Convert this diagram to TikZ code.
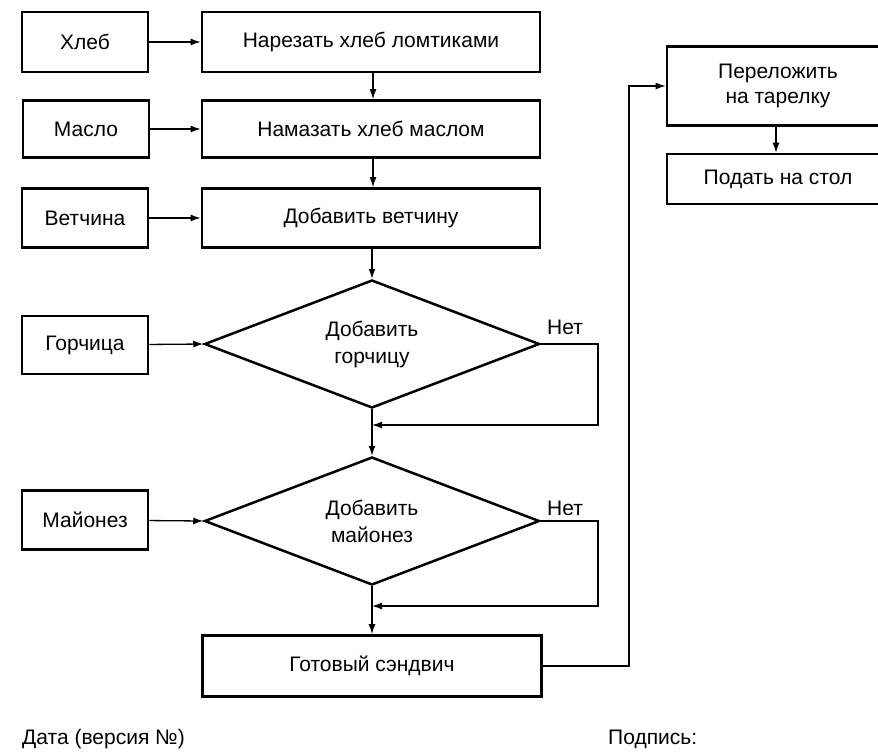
\documentclass[tikz,border=0pt]{standalone}
\usepackage{fontspec}
\setmainfont{Liberation Sans}
\usetikzlibrary{arrows.meta,shapes.geometric}
\begin{document}
\begin{tikzpicture}[x=1pt,y=-1pt,
  box/.style={draw=black,line width=2.6pt,rectangle,inner sep=0pt,font=\fontsize{21}{25}\selectfont,align=center},
  decision/.style={draw=black,line width=2.5pt,diamond,aspect=2.6,inner sep=0pt,minimum width=335pt,minimum height=128pt,font=\fontsize{21}{27}\selectfont,align=center},
  conn/.style={line width=1.3pt,-{Latex[length=10pt,width=7pt]}},
  lbl/.style={font=\fontsize{21}{25}\selectfont,inner sep=0pt}]
\useasboundingbox (0,0) rectangle (878,753);
\clip (0,0) rectangle (878,753);
\fill[white] (0,0) rectangle (878,753);

% left input boxes
\node[box,minimum width=126pt,minimum height=60pt] (xleb) at (85,42) {Хлеб};
\node[box,minimum width=126pt,minimum height=57pt] (maslo) at (86,129) {Масло};
\node[box,minimum width=126pt,minimum height=59pt] (vetch) at (85,218) {Ветчина};
\node[box,minimum width=126pt,minimum height=58pt] (gorch) at (85,345) {Горчица};
\node[box,minimum width=126pt,minimum height=59pt] (mayo) at (85,520) {Майонез};

% main column
\node[box,minimum width=338pt,minimum height=60pt] (narez) at (371,42) {Нарезать хлеб ломтиками};
\node[box,minimum width=338pt,minimum height=57pt] (namaz) at (371,129) {Намазать хлеб маслом};
\node[box,minimum width=338pt,minimum height=59pt] (dobvet) at (371,218) {Добавить ветчину};
\node[decision] (d1) at (372,344) {Добавить\\горчицу};
\node[decision] (d2) at (372,521) {Добавить\\майонез};
\node[box,minimum width=339pt,minimum height=61pt] (gotov) at (372,666) {Готовый сэндвич};

% right column
\node[box,minimum width=222pt,minimum height=79pt] (perel) at (778,86) {Переложить\\на тарелку};
\node[box,minimum width=222pt,minimum height=50pt] (podat) at (778,179) {Подать на стол};

% inputs
\draw[conn] (xleb) -- (narez);
\draw[conn] (maslo) -- (namaz);
\draw[conn] (vetch) -- (dobvet);
\draw[conn] (gorch) -- (d1.west);
\draw[conn] (mayo) -- (d2.west);

% main flow
\draw[conn] (narez.south -| 373,0) -- (namaz.north -| 373,0);
\draw[conn] (namaz.south -| 373,0) -- (dobvet.north -| 373,0);
\draw[conn] (dobvet.south -| 372,0) -- (d1.north);
\draw[conn] (d1.south) -- (d2.north);
\draw[conn] (d2.south) -- (gotov.north -| d2.south);

% no-branches
\coordinate (j1) at (372,425);
\coordinate (j2) at (372,606);
\draw[conn] (d1.east) -- (598,344) |- (j1);
\draw[conn] (d2.east) -- (598,521) |- (j2);
\node[lbl,anchor=west] (no1) at (547,327) {Нет};
\node[lbl,anchor=west] (no2) at (547,508) {Нет};

% to right column
\draw[conn] (gotov.east) -- (629,666) |- (perel.west);
\draw[conn] (perel.south -| 776,0) -- (podat.north -| 776,0);

% footer
\node[lbl,anchor=west] (date) at (22,739) {Дата (версия №)};
\node[lbl,anchor=west] (sign) at (608,739) {Подпись:};
\end{tikzpicture}
\end{document}
